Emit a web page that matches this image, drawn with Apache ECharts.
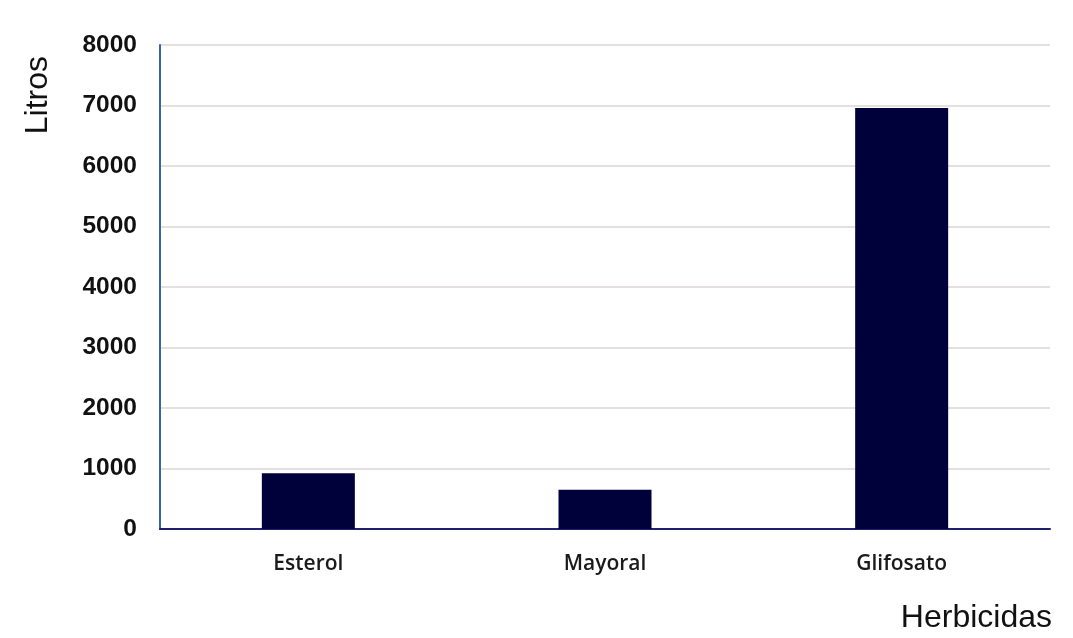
<!DOCTYPE html>
<html>
<head>
<meta charset="utf-8">
<script src="https://cdn.jsdelivr.net/npm/echarts@6/dist/echarts.min.js"></script>
<style>html,body{margin:0;padding:0;background:#fff}#c{width:1073px;height:638px}</style>
</head>
<body>
<div id="c"></div>
<script>
const categories = ['Esterol', 'Mayoral', 'Glifosato'];
const litros = [920, 650, 6960];
const yTicks = [0, 1000, 2000, 3000, 4000, 5000, 6000, 7000, 8000];
const yAxisTitle = 'Litros';
const xAxisTitle = 'Herbicidas';

const chart = echarts.init(document.getElementById('c'), null, {renderer: 'canvas'});
chart.setOption({
  animation: false,
  backgroundColor: '#ffffff',
  grid: {left: 160, right: 23, top: 45, bottom: 109, containLabel: false},
  xAxis: {
    type: 'category',
    data: categories,
    axisLine: {show: true, lineStyle: {color: '#1f1f6b', width: 2}},
    axisTick: {show: false},
    axisLabel: {color: '#1a1a1a', fontFamily: 'Open Sans', fontWeight: 600, fontSize: 21, margin: 25}
  },
  yAxis: {
    type: 'value',
    min: yTicks[0],
    max: yTicks[yTicks.length - 1],
    interval: 1000,
    axisLine: {show: true, lineStyle: {color: '#3a64a8', width: 2}},
    axisTick: {show: false},
    splitLine: {show: true, lineStyle: {color: '#ddd6d6', width: 1.5}},
    axisLabel: {color: '#111', fontFamily: 'Liberation Sans', fontWeight: 'bold', fontSize: 24.5, margin: 23,
      formatter: function (v) { return String(v); }}
  },
  graphic: [
    {type: 'text', left: 22, top: 56, rotation: Math.PI / 2,
      style: {text: yAxisTitle, font: '32px "Liberation Sans"', fill: '#111'}},
    {type: 'text', right: 21, top: 602,
      style: {text: xAxisTitle, font: '32px "Liberation Sans"', fill: '#111'}}
  ],
  series: [{
    type: 'bar',
    data: litros,
    barWidth: 93,
    itemStyle: {color: '#00003a'}
  }]
});
</script>
</body>
</html>
